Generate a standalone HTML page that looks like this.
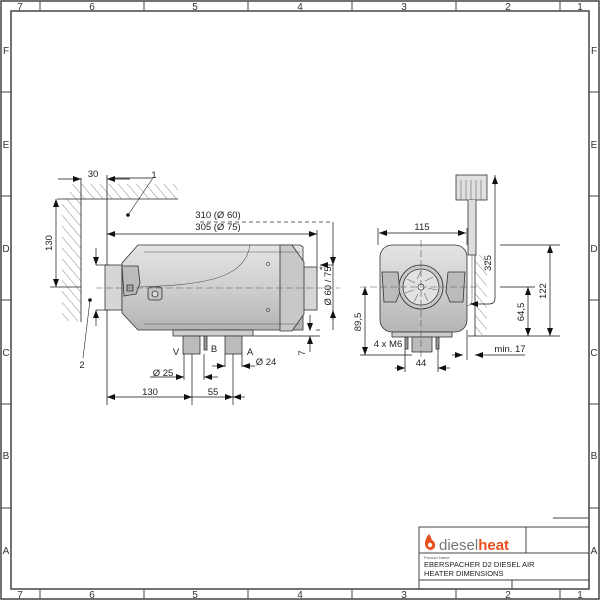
<!DOCTYPE html>
<html><head><style>html,body{margin:0;padding:0;background:#fff}svg{display:block}</style></head><body>
<svg width="600" height="600" viewBox="0 0 600 600" xmlns="http://www.w3.org/2000/svg" font-family="Liberation Sans, sans-serif">
<defs>
<marker id="a" markerWidth="8" markerHeight="6" refX="8" refY="3" orient="auto-start-reverse" markerUnits="userSpaceOnUse"><path d="M0,0 L8,3 L0,6z" fill="#111"/></marker>
<linearGradient id="g" x1="0" y1="0" x2="0" y2="1"><stop offset="0" stop-color="#e4e4e4"/><stop offset="0.5" stop-color="#cfcfcf"/><stop offset="1" stop-color="#b4b4b4"/></linearGradient>
<pattern id="h" width="7" height="7" patternUnits="userSpaceOnUse" patternTransform="rotate(-40)"><line x1="0" y1="0" x2="0" y2="7" stroke="#555" stroke-width="0.7"/></pattern>
</defs>
<!-- frame -->
<rect x="1" y="1" width="598" height="598" fill="none" stroke="#444" stroke-width="1.5"/>
<rect x="11" y="11" width="578" height="578" fill="none" stroke="#444" stroke-width="1.5"/>
<g stroke="#444" stroke-width="1">
<line x1="40" y1="1" x2="40" y2="11"/><line x1="144" y1="1" x2="144" y2="11"/><line x1="248" y1="1" x2="248" y2="11"/><line x1="352" y1="1" x2="352" y2="11"/><line x1="456" y1="1" x2="456" y2="11"/><line x1="560" y1="1" x2="560" y2="11"/>
<line x1="40" y1="589" x2="40" y2="599"/><line x1="144" y1="589" x2="144" y2="599"/><line x1="248" y1="589" x2="248" y2="599"/><line x1="352" y1="589" x2="352" y2="599"/><line x1="456" y1="589" x2="456" y2="599"/><line x1="560" y1="589" x2="560" y2="599"/>
<line x1="1" y1="92" x2="11" y2="92"/><line x1="1" y1="196" x2="11" y2="196"/><line x1="1" y1="300" x2="11" y2="300"/><line x1="1" y1="404" x2="11" y2="404"/><line x1="1" y1="508" x2="11" y2="508"/>
<line x1="589" y1="92" x2="599" y2="92"/><line x1="589" y1="196" x2="599" y2="196"/><line x1="589" y1="300" x2="599" y2="300"/><line x1="589" y1="404" x2="599" y2="404"/><line x1="589" y1="508" x2="599" y2="508"/>
</g>
<g font-size="10" fill="#333" text-anchor="middle">
<text x="20" y="10">7</text><text x="92" y="10">6</text><text x="195" y="10">5</text><text x="300" y="10">4</text><text x="404" y="10">3</text><text x="508" y="10">2</text><text x="580" y="10">1</text>
<text x="20" y="598">7</text><text x="92" y="598">6</text><text x="195" y="598">5</text><text x="300" y="598">4</text><text x="404" y="598">3</text><text x="508" y="598">2</text><text x="580" y="598">1</text>
<text x="6" y="54">F</text><text x="6" y="148">E</text><text x="6" y="252">D</text><text x="6" y="356">C</text><text x="6" y="459">B</text><text x="6" y="554">A</text>
<text x="594" y="54">F</text><text x="594" y="148">E</text><text x="594" y="252">D</text><text x="594" y="356">C</text><text x="594" y="459">B</text><text x="594" y="554">A</text>
</g>

<!-- LEFT VIEW -->
<rect x="70" y="184" width="108" height="15" fill="url(#h)"/>
<rect x="62" y="199" width="19" height="122" fill="url(#h)"/>
<g stroke="#222" stroke-width="0.8" fill="none">
<line x1="57" y1="199" x2="178" y2="199"/>
<line x1="81" y1="178" x2="81" y2="322"/>
<line x1="107" y1="175" x2="107" y2="405"/>
<line x1="50" y1="287" x2="81" y2="287"/>
</g>
<g stroke="#111" stroke-width="0.7" fill="none">
<line x1="58" y1="179" x2="81" y2="179" marker-end="url(#a)"/><line x1="130" y1="179" x2="107" y2="179" marker-end="url(#a)"/>
<line x1="56" y1="199" x2="56" y2="287" marker-start="url(#a)" marker-end="url(#a)"/>
<line x1="107" y1="234" x2="317" y2="234" marker-start="url(#a)" marker-end="url(#a)"/>
<line x1="317" y1="230" x2="317" y2="272"/>
<line x1="333" y1="222" x2="333" y2="330"/>
<line x1="320" y1="265" x2="333" y2="265" marker-start="url(#a)"/>
<line x1="333" y1="255" x2="333" y2="265" marker-end="url(#a)"/>
<line x1="333" y1="320" x2="333" y2="310" marker-end="url(#a)"/>
<line x1="96" y1="265" x2="110" y2="265"/><line x1="96" y1="310" x2="110" y2="310"/>
<line x1="96" y1="248" x2="96" y2="265" marker-end="url(#a)"/><line x1="96" y1="326" x2="96" y2="310" marker-end="url(#a)"/>
<line x1="110" y1="178" x2="152" y2="178"/>
<line x1="316" y1="330" x2="320" y2="330"/><line x1="253" y1="336" x2="320" y2="336"/>
<line x1="310" y1="315" x2="310" y2="331" marker-end="url(#a)"/><line x1="310" y1="352" x2="310" y2="336" marker-end="url(#a)"/>
<line x1="184" y1="354" x2="184" y2="380"/><line x1="204" y1="354" x2="204" y2="380"/><line x1="192" y1="354" x2="192" y2="405"/><line x1="233" y1="354" x2="233" y2="405"/>
<line x1="225" y1="354" x2="225" y2="367"/><line x1="242" y1="354" x2="242" y2="367"/>
<line x1="150" y1="377" x2="184" y2="377" marker-end="url(#a)"/><line x1="218" y1="377" x2="204" y2="377" marker-end="url(#a)"/>
<line x1="212" y1="366" x2="225" y2="366" marker-end="url(#a)"/><line x1="255" y1="366" x2="242" y2="366" marker-end="url(#a)"/>
<line x1="107" y1="397" x2="192" y2="397" marker-start="url(#a)" marker-end="url(#a)"/>
<line x1="192" y1="397" x2="233" y2="397" marker-end="url(#a)"/>
<line x1="245" y1="397" x2="233" y2="397" marker-end="url(#a)"/>
</g>
<line x1="200" y1="222" x2="333" y2="222" stroke="#333" stroke-width="0.7" stroke-dasharray="4,3"/>
<!-- heater body -->
<g stroke="#333" stroke-width="0.8">
<rect x="105" y="265" width="17" height="45" fill="#d6d6d6"/>
<rect x="300" y="267" width="17" height="43" fill="#d6d6d6"/>
<path d="M138,245 L300,245 L303,247 L303,330 L138,330 L122,313 L122,263 Z" fill="url(#g)"/>
<path d="M280,245 L292,245 L304,262 L304,314 L292,331 L280,331 Z" fill="#c8c8c8"/>
<rect x="173" y="330" width="80" height="6" fill="#cfcfcf"/>
<rect x="183" y="336" width="17" height="18" fill="#bbb"/>
<rect x="225" y="336" width="17" height="18" fill="#bbb"/>
<rect x="204" y="336" width="3" height="14" fill="#999"/>
<path d="M122,266 L138,266 L140,283 L136,294 L124,296 Z" fill="#bbb"/>
<rect x="127" y="285" width="6" height="6" fill="#aaa"/>
<rect x="148" y="287" width="14" height="13" rx="3" fill="#c4c4c4"/>
<circle cx="155" cy="294" r="3" fill="#ddd"/>
</g>
<g stroke="#555" stroke-width="0.6" fill="none">
<path d="M138,287 C200,285 245,280 250,245"/>
<line x1="144" y1="252" x2="300" y2="252"/><line x1="144" y1="324" x2="300" y2="324"/>
</g>
<circle cx="268" cy="264" r="1.6" fill="none" stroke="#444" stroke-width="0.6"/>
<circle cx="268" cy="310" r="1.6" fill="none" stroke="#444" stroke-width="0.6"/>
<line x1="96" y1="288" x2="340" y2="288" stroke="#555" stroke-width="0.6" stroke-dasharray="7,3"/>
<circle cx="128" cy="215" r="1.8" fill="#111"/><circle cx="90" cy="300" r="1.8" fill="#111"/>
<g stroke="#222" stroke-width="0.6"><line x1="128" y1="215" x2="153" y2="178"/><line x1="90" y1="300" x2="83" y2="358"/></g>
<g font-size="9.5" fill="#222" text-anchor="middle">
<text x="93" y="177">30</text>
<text x="154" y="178">1</text>
<text x="82" y="368">2</text>
<text x="52" y="243" transform="rotate(-90 52 243)">130</text>
<text x="218" y="218">310 (Ø 60)</text>
<text x="218" y="230">305 (Ø 75)</text>
<text x="331" y="286" transform="rotate(-90 331 286)">Ø 60 / 75</text>
<text x="321" y="273">*</text>
<text x="176" y="355">V</text><text x="214" y="352">B</text><text x="250" y="355">A</text>
<text x="163" y="376">Ø 25</text><text x="266" y="365">Ø 24</text>
<text x="305" y="353" transform="rotate(-90 305 353)">7</text>
<text x="150" y="395">130</text><text x="213" y="395">55</text>
</g>

<!-- RIGHT VIEW -->
<rect x="475" y="255" width="12" height="80" fill="url(#h)"/>
<g stroke="#222" stroke-width="0.8" fill="none"><line x1="475" y1="255" x2="475" y2="336"/></g>
<g stroke="#333" stroke-width="0.8">
<rect x="380" y="245" width="87" height="87" rx="12" fill="url(#g)"/>
<rect x="392" y="332" width="60" height="5" fill="#ccc"/>
<rect x="412" y="337" width="20" height="15" fill="#bbb"/>
<rect x="405" y="337" width="3" height="12" fill="#999"/><rect x="436" y="337" width="3" height="12" fill="#999"/>
<path d="M382,272 L398,272 L400,292 L396,302 L384,302 Z" fill="#bbb"/>
<path d="M465,272 L448,272 L446,292 L450,302 L463,302 Z" fill="#bbb"/>
<circle cx="421" cy="287" r="22" fill="#c9c9c9"/>
<circle cx="421" cy="287" r="18" fill="#e2e2e2"/>
<circle cx="421" cy="287" r="3" fill="#fff"/>
<rect x="456" y="175" width="31" height="25" fill="#e0e0e0"/>
<path d="M468,200 L468,255 L476,255 L476,200" fill="#ddd"/>
</g>
<g stroke="#666" stroke-width="0.6" fill="none">
<path d="M421,271 l-4,8 M433,277 l-8,4 M437,290 l-9,-2 M428,301 l-4,-8 M414,302 l4,-8 M405,293 l9,-3 M407,279 l8,4"/>
<line x1="461" y1="180" x2="461" y2="200"/><line x1="466" y1="180" x2="466" y2="200"/><line x1="471" y1="180" x2="471" y2="200"/><line x1="476" y1="180" x2="476" y2="200"/><line x1="481" y1="180" x2="481" y2="200"/>
<path d="M472,255 L472,300 Q472,306 466,306"/>
</g>
<g stroke="#111" stroke-width="0.7" fill="none">
<line x1="378" y1="228" x2="378" y2="245"/><line x1="467" y1="228" x2="467" y2="245"/>
<line x1="379" y1="233" x2="466" y2="233" marker-start="url(#a)" marker-end="url(#a)"/>
<path d="M495,175 L495,298 Q495,304 489,304 L470,304" /><line x1="495" y1="185" x2="495" y2="176" marker-end="url(#a)"/><line x1="478" y1="304" x2="470" y2="304" marker-end="url(#a)"/>
<line x1="500" y1="245" x2="560" y2="245"/><line x1="468" y1="336" x2="560" y2="336"/>
<line x1="550" y1="245" x2="550" y2="336" marker-start="url(#a)" marker-end="url(#a)"/>
<line x1="528" y1="287" x2="528" y2="336" marker-start="url(#a)" marker-end="url(#a)"/>
<line x1="500" y1="287" x2="535" y2="287"/>
<line x1="365" y1="287" x2="365" y2="355" marker-start="url(#a)" marker-end="url(#a)"/>
<line x1="360" y1="355" x2="412" y2="355"/>
<line x1="452" y1="355" x2="463" y2="355" marker-end="url(#a)"/><line x1="488" y1="355" x2="475" y2="355" marker-end="url(#a)"/><line x1="488" y1="355" x2="525" y2="355"/>
<line x1="467" y1="330" x2="467" y2="360"/>
<line x1="395" y1="368" x2="405" y2="368" marker-end="url(#a)"/><line x1="450" y1="368" x2="438" y2="368" marker-end="url(#a)"/>
<line x1="405" y1="349" x2="405" y2="372"/><line x1="438" y1="349" x2="438" y2="372"/>
</g>
<line x1="360" y1="287" x2="480" y2="287" stroke="#555" stroke-width="0.6" stroke-dasharray="7,3"/>
<line x1="421" y1="240" x2="421" y2="360" stroke="#555" stroke-width="0.6" stroke-dasharray="7,3"/>
<g font-size="9.5" fill="#222" text-anchor="middle">
<text x="422" y="230">115</text>
<text x="491" y="263" transform="rotate(-90 491 263)">325</text>
<text x="546" y="291" transform="rotate(-90 546 291)">122</text>
<text x="524" y="312" transform="rotate(-90 524 312)">64,5</text>
<text x="361" y="322" transform="rotate(-90 361 322)">89,5</text>
<text x="388" y="347">4 x M6</text>
<text x="510" y="352">min. 17</text>
<text x="421" y="366">44</text>
</g>

<!-- TITLE BLOCK -->
<g stroke="#444" stroke-width="1" fill="none">
<path d="M419,589 L419,527 L589,527"/>
<line x1="526" y1="527" x2="526" y2="553"/>
<line x1="419" y1="553" x2="589" y2="553"/>
<line x1="419" y1="580" x2="589" y2="580"/>
<line x1="512" y1="580" x2="512" y2="589"/>
<line x1="553" y1="518" x2="589" y2="518"/>
</g>
<path d="M429,534 C424,540 423,548 430,550 C436,550 437,543 432,540 C431,538 431,536 429,534 Z" fill="#e8501e"/>
<circle cx="430" cy="545" r="2.2" fill="#fff"/>
<text x="439" y="550" font-size="15" fill="#777">diesel<tspan fill="#e8501e" font-weight="bold">heat</tspan></text>
<text x="424" y="559" font-size="4" fill="#555">Product Name</text>
<text x="424" y="567" font-size="7.5" fill="#222">EBERSPACHER D2 DIESEL AIR</text>
<text x="424" y="576" font-size="7.5" fill="#222">HEATER DIMENSIONS</text>
</svg>
</body></html>
